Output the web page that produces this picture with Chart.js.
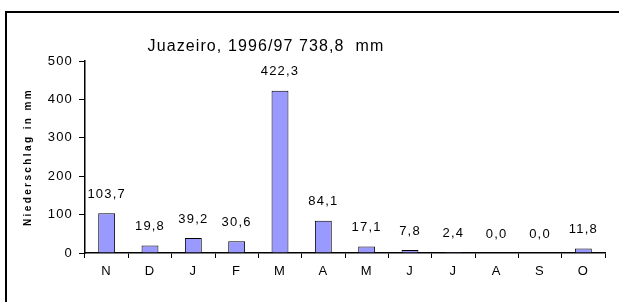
<!DOCTYPE html>
<html>
<head>
<meta charset="utf-8">
<script src="https://cdn.jsdelivr.net/npm/chart.js@4/dist/chart.umd.min.js"></script>
<style>
  html, body { margin: 0; padding: 0; background: #fff; }
  #box { width: 619px; height: 302px; }
</style>
</head>
<body>
<div id="box"><canvas id="rainChart" width="619" height="302"></canvas></div>
<script>
// Monate Nov 1996 - Okt 1997
const months = ["N", "D", "J", "F", "M", "A", "M", "J", "J", "A", "S", "O"];
const rainfall = [103.7, 19.8, 39.2, 30.6, 422.3, 84.1, 17.1, 7.8, 2.4, 0.0, 0.0, 11.8];
const yTicks = [0, 100, 200, 300, 400, 500];
const chartTitle = "Juazeiro, 1996/97 738,8  mm";
const yTitle = "Niederschlag in mm";

const fontFam = "'Liberation Sans', Arial, sans-serif";

// Rahmen, Titel, Achsentitel und Werte über den Balken
const extras = {
    id: "extras",
    beforeDraw(chart) {
        const c = chart.ctx;
        c.fillStyle = "#fff";
        c.fillRect(0, 0, chart.width, chart.height);
        c.strokeStyle = "#000";
        c.lineWidth = 2;
        c.beginPath();
        c.moveTo(6, chart.height);
        c.lineTo(6, 12);
        c.lineTo(chart.width, 12);
        c.stroke();

        c.save();
        c.fillStyle = "#000";
        c.letterSpacing = "1.1px";
        c.font = "16px " + fontFam;
        c.textAlign = "center";
        c.textBaseline = "middle";
        c.fillText(chartTitle, 266, 47);

        c.letterSpacing = "2.4px";
        c.font = "bold 10px " + fontFam;
        c.translate(28, 157);
        c.rotate(-Math.PI / 2);
        c.fillText(yTitle, 0, 0);
        c.restore();
        // Abstand für Achsenbeschriftungen
        c.letterSpacing = "1.2px";
    },
    afterDatasetsDraw(chart) {
        const c = chart.ctx;
        const meta = chart.getDatasetMeta(0);
        c.save();
        c.fillStyle = "#000";
        c.letterSpacing = "1.2px";
        c.font = "13px " + fontFam;
        c.textAlign = "center";
        c.textBaseline = "middle";
        meta.data.forEach((bar, i) => {
            const txt = rainfall[i].toFixed(1).replace(".", ",");
            c.fillText(txt, bar.x, bar.y - 19);
        });
        c.restore();
    }
};

const ctx = document.getElementById("rainChart").getContext("2d");
ctx.letterSpacing = "1.2px";
new Chart(ctx, {
    type: "bar",
    data: {
        labels: months,
        datasets: [{
            data: rainfall,
            backgroundColor: "#9999ff",
            borderColor: "#000",
            borderWidth: 1,
            barPercentage: 0.39,
            categoryPercentage: 1.0
        }]
    },
    options: {
        responsive: false,
        animation: false,
        layout: { padding: { left: 0, right: 14, top: 61, bottom: 18 } },
        scales: {
            x: {
                grid: {
                    offset: true,
                    drawOnChartArea: false,
                    tickLength: 5,
                    color: "#000"
                },
                border: { color: "#000", width: 1.5 },
                ticks: { color: "#000", font: { family: fontFam, size: 13 }, padding: 6 },
                afterFit(scale) { scale.height = 31; }
            },
            y: {
                min: 0,
                max: 500,
                afterBuildTicks(scale) { scale.ticks = yTicks.map(v => ({ value: v })); },
                grid: {
                    drawOnChartArea: false,
                    tickLength: 6,
                    color: "#000"
                },
                border: { color: "#000", width: 1.5 },
                ticks: { color: "#000", font: { family: fontFam, size: 13 }, padding: 6 },
                afterFit(scale) { scale.width = 85; }
            }
        },
        plugins: {
            legend: { display: false },
            tooltip: { enabled: false },
            title: { display: false }
        }
    },
    plugins: [extras]
});
</script>
</body>
</html>
